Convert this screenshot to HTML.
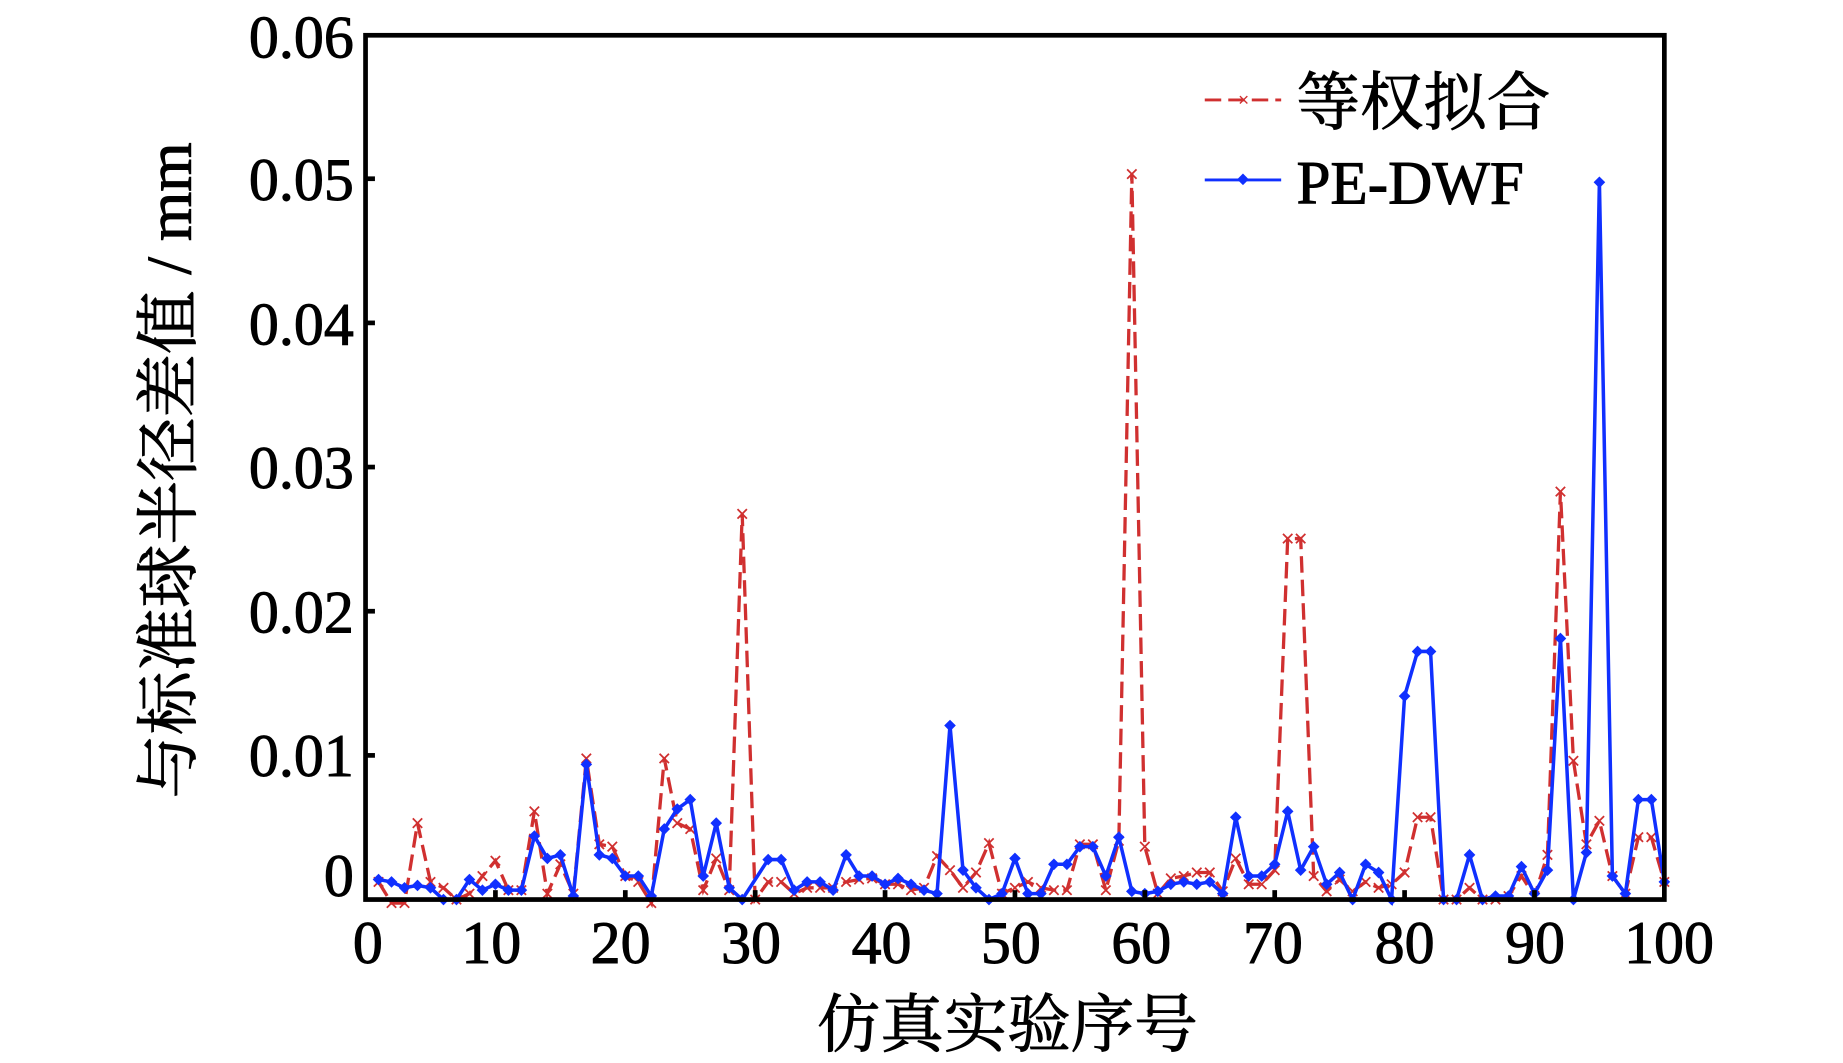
<!DOCTYPE html>
<html><head><meta charset="utf-8">
<style>html,body{margin:0;padding:0;background:#fff;width:1843px;height:1063px;overflow:hidden}</style>
</head><body>
<svg id="s" width="1843" height="1063" viewBox="0 0 1568 904" preserveAspectRatio="none" xmlns="http://www.w3.org/2000/svg">
<rect width="1568" height="904" fill="#fff"/>
<g id="plot"></g>
<rect x="311" y="30" width="1105" height="735" fill="none" stroke="#000" stroke-width="4"/>
<g font-family="Liberation Serif, serif" font-size="51" fill="#000" text-anchor="end" stroke="#000" stroke-width="0.8">
<text x="301" y="49">0.06</text>
<text x="301" y="170">0.05</text>
<text x="301" y="293">0.04</text>
<text x="301" y="415">0.03</text>
<text x="301" y="538">0.02</text>
<text x="301" y="660">0.01</text>
<text x="301" y="762">0</text>
</g>
<g font-family="Liberation Serif, serif" font-size="51" fill="#000" text-anchor="middle" stroke="#000" stroke-width="0.8">
<text x="313" y="819">0</text><text x="418" y="819">10</text><text x="528" y="819">20</text>
<text x="639" y="819">30</text><text x="750" y="819">40</text><text x="860" y="819">50</text>
<text x="971" y="819">60</text><text x="1083" y="819">70</text><text x="1195" y="819">80</text>
<text x="1306" y="819">90</text><text x="1420" y="819">100</text>
</g>
<text x="857" y="890" font-family="Liberation Serif, 'Noto Serif CJK SC', serif" font-size="54" text-anchor="middle" stroke="#000" stroke-width="0.8">仿真实验序号</text>
<text transform="translate(162,400) rotate(-90)" font-family="Liberation Serif, 'Noto Serif CJK SC', serif" font-size="54" text-anchor="middle" stroke="#000" stroke-width="0.8">与标准球半径差值 / mm</text>
<line x1="1025" y1="85" x2="1090" y2="85" stroke="#d03030" stroke-width="2.5" stroke-dasharray="14,6"/>
<text x="1058" y="90" font-family="Liberation Sans,sans-serif" font-size="16" fill="#d03030" text-anchor="middle">×</text>
<text x="1103" y="106" font-family="Liberation Serif, 'Noto Serif CJK SC', serif" font-size="54" stroke="#000" stroke-width="0.8">等权拟合</text>
<line x1="1025" y1="153" x2="1090" y2="153" stroke="#1030ff" stroke-width="2.5"/>
<rect x="1054" y="149" width="7" height="7" fill="#1030ff" transform="rotate(45 1057.5 152.5)"/>
<text x="1103" y="173" font-family="Liberation Serif, serif" font-size="52" stroke="#000" stroke-width="0.8">PE-DWF</text>
</svg>
<script>
var red=[750,768,768,700,750,755,765,760,745,732,757,757,757,690,760,735,760,645,718,720,745,750,768,645,700,705,757,730,757,437,765,750,750,760,755,755,755,750,748,747,752,752,757,755,728,740,755,742,717,760,755,750,755,757,757,718,718,757,715,148,720,760,747,745,742,742,758,730,752,752,740,458,458,745,758,748,758,750,755,752,742,695,695,765,765,755,765,765,762,745,762,727,418,647,718,698,745,760,712,712,750];
var blue=[748,750,750,755,753,755,765,765,748,757,752,757,757,711,730,727,762,650,727,730,745,745,762,705,688,680,745,700,755,765,731,731,757,750,750,757,727,745,745,752,747,752,757,760,617,740,755,765,760,730,760,760,735,735,720,720,745,712,758,760,758,752,750,752,750,760,695,745,745,735,690,740,720,752,742,765,735,742,765,592,554,554,765,765,727,765,762,762,737,760,740,543,765,725,155,745,760,680,680,750];
function X(x){return 311+x*11.05}
var g=document.getElementById('plot'),h='';
var rpts=[],bpts=[];
red.forEach(function(y,k){var x=k<=10?k+1:k; if(k==11)return; rpts.push([X(x),y]);});
blue.forEach(function(y,k){var x=(k+1<=30&&k>0)?k:k+1; if(k==1)return; bpts.push([X(x),y]);});
h+='<polyline points="'+rpts.map(function(p){return p.join(',')}).join(' ')+'" fill="none" stroke="#d03030" stroke-width="2.8" stroke-dasharray="14,6"/>';
rpts.forEach(function(p){var x=p[0],y=p[1];h+='<path d="M'+(x-4)+' '+(y-4)+'L'+(x+4)+' '+(y+4)+'M'+(x-4)+' '+(y+4)+'L'+(x+4)+' '+(y-4)+'" stroke="#d03030" stroke-width="1.5"/>';});
h+='<polyline points="'+bpts.map(function(p){return p.join(',')}).join(' ')+'" fill="none" stroke="#1030ff" stroke-width="3"/>';
bpts.forEach(function(p){var x=p[0],y=p[1];h+='<rect x="'+(x-3.5)+'" y="'+(y-3.5)+'" width="7" height="7" fill="#1030ff" transform="rotate(45 '+x+' '+y+')"/>';});
for(var i=1;i<6;i++){var y=765-i*122.6;h+='<line x1="311" x2="319" y1="'+y+'" y2="'+y+'" stroke="#000" stroke-width="4"/>';}
for(var i=1;i<10;i++){var x=X(i*10);h+='<line x1="'+x+'" x2="'+x+'" y1="757" y2="765" stroke="#000" stroke-width="4"/>';}
g.innerHTML=h;
</script>
</body></html>
